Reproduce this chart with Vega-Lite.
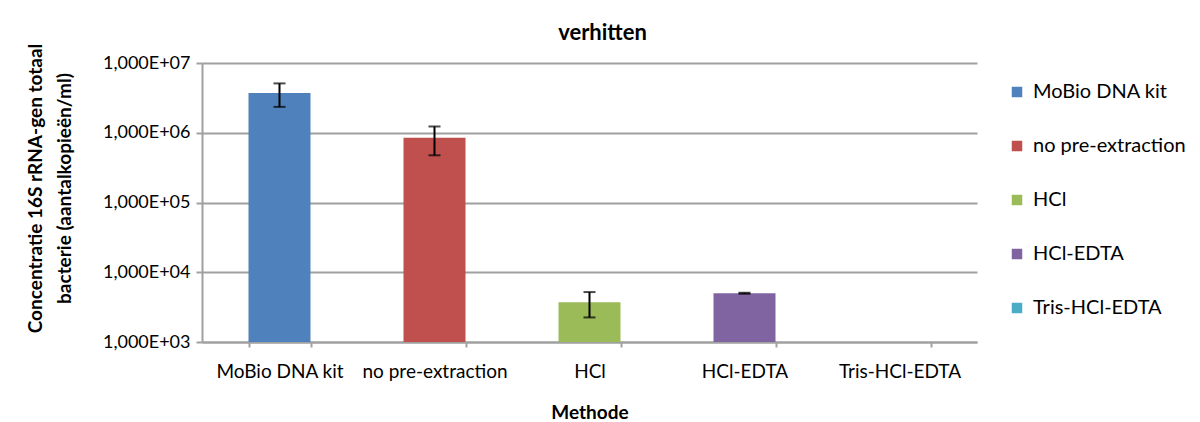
{
  "$schema": "https://vega.github.io/schema/vega-lite/v6.json",
  "width": 775,
  "height": 279,
  "autosize": {"type": "none"},
  "padding": {"left": 202, "top": 63, "right": 223, "bottom": 80},
  "background": "white",
  "title": {
    "text": "verhitten",
    "font": "Lato",
    "fontSize": 22,
    "fontWeight": "bold",
    "color": "#000000",
    "anchor": "middle",
    "dx": 13,
    "offset": -2
  },
  "config": {
    "view": {"stroke": null},
    "font": "Lato"
  },
  "data": {
    "values": [
      {"method": "MoBio DNA kit", "value": 3700000, "lo": 2350000, "hi": 5100000},
      {"method": "no pre-extraction", "value": 850000, "lo": 475000, "hi": 1230000},
      {"method": "HCl", "value": 3700, "lo": 2250, "hi": 5200},
      {"method": "HCl-EDTA", "value": 5000, "lo": 4920, "hi": 5080},
      {"method": "Tris-HCl-EDTA", "value": null, "lo": null, "hi": null}
    ]
  },
  "encoding": {
    "x": {
      "field": "method",
      "type": "nominal",
      "sort": null,
      "scale": {
        "domain": ["MoBio DNA kit", "no pre-extraction", "HCl", "HCl-EDTA", "Tris-HCl-EDTA"],
        "paddingInner": 0.6,
        "paddingOuter": 0.3
      },
      "axis": {
        "title": "Methode",
        "titleFont": "Lato",
        "titleFontSize": 19,
        "titleFontWeight": "bold",
        "titleColor": "#000000",
        "titlePadding": 22,
        "labelAngle": 0,
        "labelFont": "Lato",
        "labelFontSize": 19,
        "labelColor": "#000000",
        "labelPadding": 15,
        "tickBand": "extent",
        "ticks": true,
        "tickSize": 5,
        "tickColor": "#a0a0a0",
        "tickWidth": 2,
        "domainColor": "#a0a0a0",
        "domainWidth": 2,
        "grid": false
      }
    }
  },
  "layer": [
    {
      "mark": {"type": "bar"},
      "encoding": {
        "y": {
          "field": "value",
          "type": "quantitative",
          "scale": {"type": "log", "domain": [1000, 10000000], "nice": false},
          "axis": {
            "title": ["Concentratie 16S rRNA-gen totaal", "bacterie (aantalkopieën/ml)"],
            "titleFont": "Lato",
            "titleFontSize": 19,
            "titleFontWeight": "bold",
            "titleColor": "#000000",
            "titleLineHeight": 29,
            "titleX": -157,
            "titleY": 125,
            "values": [1000, 10000, 100000, 1000000, 10000000],
            "labelExpr": "'1,000E+0' + round(log(datum.value) / LN10)",
            "labelFont": "Lato",
            "labelFontSize": 18,
            "labelColor": "#000000",
            "labelPadding": 6,
            "tickSize": 6,
            "tickColor": "#a0a0a0",
            "tickWidth": 2,
            "domainColor": "#a0a0a0",
            "domainWidth": 2,
            "grid": true,
            "gridColor": "#a0a0a0",
            "gridWidth": 2
          }
        },
        "y2": {"datum": 1000},
        "color": {
          "field": "method",
          "type": "nominal",
          "scale": {
            "domain": ["MoBio DNA kit", "no pre-extraction", "HCl", "HCl-EDTA", "Tris-HCl-EDTA"],
            "range": ["#4F81BD", "#C0504D", "#9BBB59", "#8064A2", "#4BACC6"]
          },
          "legend": {
            "title": null,
            "orient": "none",
            "legendX": 805,
            "legendY": 19,
            "symbolType": "square",
            "symbolSize": 110,
            "symbolStrokeWidth": 0,
            "symbolOpacity": 1,
            "labelFont": "Lato",
            "labelFontSize": 20,
            "labelColor": "#000000",
            "labelOffset": 6,
            "rowPadding": 34
          }
        }
      }
    },
    {
      "mark": {"type": "rule", "color": "#000000", "strokeWidth": 2},
      "encoding": {
        "y": {"field": "lo", "type": "quantitative"},
        "y2": {"field": "hi"}
      }
    },
    {
      "mark": {"type": "tick", "color": "#000000", "thickness": 2, "size": 12, "orient": "horizontal"},
      "encoding": {
        "y": {"field": "lo", "type": "quantitative"}
      }
    },
    {
      "mark": {"type": "tick", "color": "#000000", "thickness": 2, "size": 12, "orient": "horizontal"},
      "encoding": {
        "y": {"field": "hi", "type": "quantitative"}
      }
    }
  ]
}
